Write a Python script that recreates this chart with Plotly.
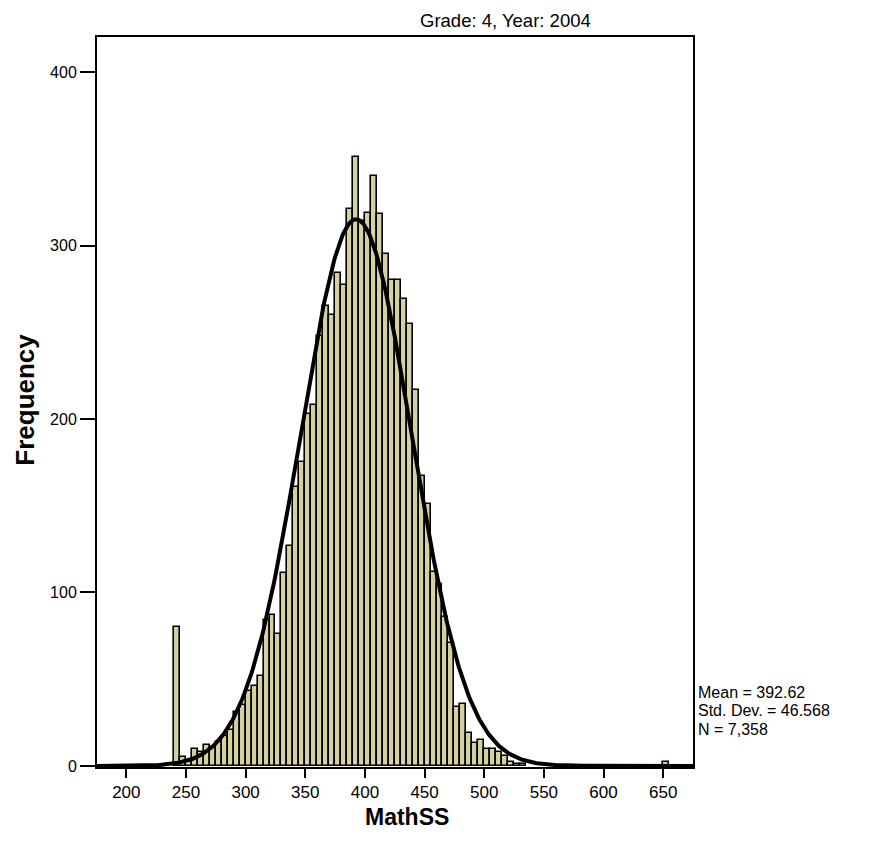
import numpy as np
import plotly.graph_objects as go

# histogram bins (left edges, width 5) and their counts
bin_width = 5
bin_left = [240, 245, 250, 255, 260, 265, 270, 275, 280, 285,
            290, 295, 300, 305, 310, 315, 320, 325, 330, 335,
            340, 345, 350, 355, 360, 365, 370, 375, 380, 385,
            390, 395, 400, 405, 410, 415, 420, 425, 430, 435,
            440, 445, 450, 455, 460, 465, 470, 475, 480, 485,
            490, 495, 500, 505, 510, 515, 520, 525, 530, 650]
counts = [80, 5, 3, 10, 8, 12, 11, 14, 17, 21,
          31, 35, 43, 46, 52, 84, 87, 76, 111, 127,
          161, 175, 203, 208, 248, 265, 260, 284, 277, 321,
          351, 314, 319, 340, 318, 295, 280, 280, 269, 255,
          217, 167, 151, 112, 105, 86, 71, 34, 36, 19,
          13, 15, 10, 10, 8, 6, 2, 1, 1, 2]

mean = 392.62
std_dev = 46.568
n_total = 7358

x_ticks = [200, 250, 300, 350, 400, 450, 500, 550, 600, 650]
y_ticks = [0, 100, 200, 300, 400]

bin_mid = [b + bin_width / 2 for b in bin_left]

# normal curve fitted to the stats above
xs = np.linspace(175, 675, 501)
ys = n_total * bin_width / (std_dev * np.sqrt(2 * np.pi)) * np.exp(-0.5 * ((xs - mean) / std_dev) ** 2)

font = "Liberation Sans, Arial, sans-serif"

fig = go.Figure()
fig.add_trace(go.Bar(
    x=bin_mid, y=counts, width=bin_width,
    marker=dict(color="#D5D0A0", line=dict(color="black", width=1.6)),
    showlegend=False,
))
fig.add_trace(go.Scatter(
    x=xs, y=ys, mode="lines",
    line=dict(color="black", width=4),
    showlegend=False,
))

stats_lines = ["Mean = %.2f" % mean, "Std. Dev. = %.3f" % std_dev, "N = " + f"{n_total:,}"]
annots = [
    dict(text="Grade: 4, Year: 2004", xref="paper", yref="paper",
         x=0.686, y=1, yanchor="middle", xanchor="center", yshift=17,
         showarrow=False, font=dict(size=18.5)),
    dict(text="<b>MathSS</b>", xref="paper", yref="paper",
         x=0.52, y=0, yanchor="middle", xanchor="center", yshift=-50,
         showarrow=False, font=dict(size=23)),
    dict(text="<b>Frequency</b>", xref="paper", yref="paper", textangle=-90,
         x=-0.121, y=0.503, yanchor="middle", xanchor="center",
         showarrow=False, font=dict(size=26)),
]
for i, line in enumerate(stats_lines):
    annots.append(dict(text=line, xref="paper", yref="paper", x=1, y=0,
                       xanchor="left", yanchor="middle", xshift=3, yshift=75 - 18.5 * i,
                       showarrow=False, font=dict(size=16)))

fig.update_layout(
    width=862, height=833,
    margin=dict(l=89, r=177, t=29, b=74),
    plot_bgcolor="white", paper_bgcolor="white",
    font=dict(family=font, color="black", size=16),
    bargap=0,
    xaxis=dict(
        range=[175.4, 675], tickvals=x_ticks, automargin=False,
        showline=True, linecolor="black", linewidth=2, mirror=True,
        ticks="outside", ticklen=9, tickwidth=2, tickcolor="black",
        tickfont=dict(size=17),
        showgrid=False, zeroline=False,
    ),
    yaxis=dict(
        range=[-0.6, 420.2], tickvals=y_ticks, automargin=False,
        showline=True, linecolor="black", linewidth=2, mirror=True,
        ticks="outside", ticklen=15, tickwidth=2, tickcolor="black",
        showgrid=False, zeroline=False,
    ),
    annotations=annots,
)

fig.write_html("out.html")
